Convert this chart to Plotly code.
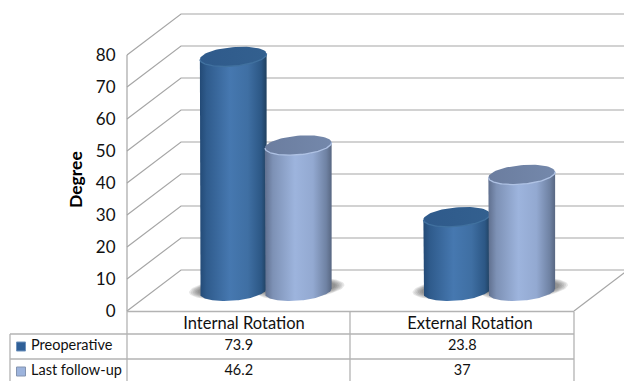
import math
import plotly.graph_objects as go

# Chart data
categories = ["Internal Rotation", "External Rotation"]
series_names = ["Preoperative", "Last follow-up"]
preoperative = [73.9, 23.8]
last_follow_up = [46.2, 37]
y_ticks = [0, 10, 20, 30, 40, 50, 60, 70, 80]

# Canvas and scale geometry (pixels)
W, H = 624, 381
FRONT_LEFT, FRONT_RIGHT = 127, 574
ZERO_PX = 311
PX_PER_DEG = 3.2
PX_PER_CAT = (FRONT_RIGHT - FRONT_LEFT) / len(categories)
DEPTH_X, DEPTH_Y = 54, 41


def dx(px):
    """Pixel column to category-axis units."""
    return (px - FRONT_LEFT) / PX_PER_CAT - 0.5


def dy(px):
    """Pixel row to degree-axis units."""
    return (ZERO_PX - px) / PX_PER_DEG


# Cylinder shape in axis units
RADIUS = 33.5 / PX_PER_CAT
CAP_B = 9.5 / PX_PER_DEG
TILT = math.radians(5)
TOP_SHIFT = 5.6
BASE_SHIFT = 6.2
BAR_OFFSET = 28 / PX_PER_CAT

BODY_DARK = [[0, "#234a76"], [0.1, "#2f5b8c"], [0.45, "#4678b0"], [0.72, "#3f6fa3"],
             [0.92, "#2c5785"], [1, "#20405f"]]
BODY_LIGHT = [[0, "#5f6f8e"], [0.12, "#7d91b5"], [0.45, "#9db4dd"], [0.72, "#93a9d1"],
              [0.92, "#6f82a3"], [1, "#586782"]]
CAP_DARK = [[0, "#2f5a8b"], [1, "#33608f"]]
CAP_LIGHT = [[0, "#6b7d9f"], [1, "#7488ab"]]
RIM_DARK = "#41719f"
RIM_LIGHT = "#afc2e4"
GRID = "#a6a6a6"
TABLE = "#b3b3b3"
FONT = "Lato, Carlito, sans-serif"


def ellipse(cx, cy, a, b, start=0.0, stop=2 * math.pi, n=72):
    xs, ys = [], []
    for i in range(n + 1):
        t = start + (stop - start) * i / n
        ex = a * PX_PER_CAT * math.cos(t)
        ey = b * PX_PER_DEG * math.sin(t)
        # tilt is applied in pixel space so the ellipse keeps its shape
        rx = ex * math.cos(TILT) - ey * math.sin(TILT)
        ry = ex * math.sin(TILT) + ey * math.cos(TILT)
        xs.append(cx + rx / PX_PER_CAT)
        ys.append(cy + ry / PX_PER_DEG)
    return xs, ys


fig = go.Figure()


def add_lines(xs, ys, color, width=1.2):
    fig.add_trace(go.Scatter(x=xs, y=ys, mode="lines", line=dict(color=color, width=width),
                             hoverinfo="skip", showlegend=False))


# Walls: gridlines run along the side wall and across the back wall
wall_x, wall_y = [], []
for v in y_ticks:
    shift = DEPTH_Y / PX_PER_DEG
    wall_x += [dx(FRONT_LEFT), dx(FRONT_LEFT + DEPTH_X), dx(FRONT_RIGHT + DEPTH_X), None]
    wall_y += [v, v + shift, v + shift, None]
add_lines(wall_x, wall_y, GRID)
# Left upright and right floor edge
add_lines([dx(FRONT_LEFT), dx(FRONT_LEFT)], [0, y_ticks[-1]], GRID)
add_lines([dx(FRONT_RIGHT), dx(FRONT_RIGHT + DEPTH_X)], [0, DEPTH_Y / PX_PER_DEG], GRID)


def add_cylinder(center, value, body, cap, rim):
    top = value + TOP_SHIFT
    # Body outline: left side, front of the base, right side
    bx, by = ellipse(center, BASE_SHIFT, RADIUS, CAP_B, math.pi, 2 * math.pi)
    tlx, tly = ellipse(center, top, RADIUS, CAP_B, math.pi, math.pi, n=1)
    trx, try_ = ellipse(center, top, RADIUS, CAP_B, 0, 0, n=1)
    xs = [tlx[0]] + bx + [trx[0]]
    ys = [tly[0]] + by + [try_[0]]
    fig.add_trace(go.Scatter(x=xs, y=ys, mode="lines", fill="toself",
                             line=dict(width=0, color="rgba(0,0,0,0)"),
                             fillgradient=dict(type="horizontal", colorscale=body),
                             hoverinfo="skip", showlegend=False))
    cx_, cy_ = ellipse(center, top, RADIUS, CAP_B)
    fig.add_trace(go.Scatter(x=cx_, y=cy_, mode="lines", fill="toself",
                             line=dict(width=0, color="rgba(0,0,0,0)"),
                             fillgradient=dict(type="horizontal", colorscale=cap),
                             hoverinfo="skip", showlegend=False))
    # Light rim along the front of the cap
    rx_, ry_ = ellipse(center, top, RADIUS, CAP_B, math.pi, 2 * math.pi)
    add_lines(rx_, ry_, rim, 1.3)


# Soft floor shadow beneath each group
for i in range(len(categories)):
    for step in range(6):
        grow = (6 - step) * 1.8 / PX_PER_CAT
        for off in (-RADIUS, RADIUS):
            sx, sy = ellipse(i + BAR_OFFSET + off, BASE_SHIFT + 0.8, RADIUS + grow,
                             CAP_B * (0.72 + 0.06 * (6 - step)))
            fig.add_trace(go.Scatter(x=sx, y=sy, mode="lines", fill="toself",
                                     line=dict(width=0, color="rgba(0,0,0,0)"),
                                     fillcolor="rgba(60,60,60,0.12)",
                                     hoverinfo="skip", showlegend=False))

# Cylinders: the lighter series sits in front of the darker one
for i in range(len(categories)):
    add_cylinder(i + BAR_OFFSET - RADIUS, preoperative[i], BODY_DARK, CAP_DARK, RIM_DARK)
for i in range(len(categories)):
    add_cylinder(i + BAR_OFFSET + RADIUS - 2 / PX_PER_CAT, last_follow_up[i], BODY_LIGHT, CAP_LIGHT, RIM_LIGHT)

# Data table rules
ROW_Y = [311.5, 334, 359]
TABLE_LEFT = 10
add_lines([dx(FRONT_LEFT), dx(FRONT_RIGHT), None, dx(TABLE_LEFT), dx(FRONT_RIGHT), None,
           dx(TABLE_LEFT), dx(FRONT_RIGHT)],
          [dy(ROW_Y[0]), dy(ROW_Y[0]), None, dy(ROW_Y[1]), dy(ROW_Y[1]), None,
           dy(ROW_Y[2]), dy(ROW_Y[2])], TABLE, 1.3)
add_lines([dx(FRONT_LEFT), dx(FRONT_LEFT), None, dx(TABLE_LEFT), dx(TABLE_LEFT), None,
           dx(350), dx(350), None, dx(FRONT_RIGHT), dx(FRONT_RIGHT)],
          [0, dy(H), None, dy(ROW_Y[1]), dy(H), None,
           dy(ROW_Y[0]), dy(H), None, dy(ROW_Y[0]), dy(H)], TABLE, 1.3)

# Data table text: category headings sit slightly right of the column centres
value_font = dict(family=FONT, size=14.5, color="#111111")
head_font = dict(family=FONT, size=16.5, color="#111111")
rows = [preoperative, last_follow_up]
row_mid = [346.5, 371.5]
head_px = [244, 470]
fig.add_trace(go.Scatter(x=[dx(p) for p in head_px], y=[dy(325)] * len(categories), text=categories,
                         mode="text", textposition="middle center", textfont=head_font,
                         hoverinfo="skip", showlegend=False))
for r, vals in enumerate(rows):
    fig.add_trace(go.Scatter(x=list(range(len(categories))), y=[dy(row_mid[r])] * len(categories),
                             text=[str(v) for v in vals], mode="text", textposition="middle center",
                             textfont=value_font, hoverinfo="skip", showlegend=False))
fig.add_trace(go.Scatter(x=[dx(31), dx(31)], y=[dy(row_mid[0]), dy(row_mid[1])], text=series_names,
                         mode="text", textposition="middle right", textfont=value_font,
                         hoverinfo="skip", showlegend=False))

# Legend keys in the first table column
for name, row, col, edge in zip(series_names, row_mid, ["#2f5f97", "#9db4dd"], ["#6f93bd", "#8494b0"]):
    fig.add_trace(go.Scatter(x=[dx(21)], y=[dy(row)], mode="markers", name=name,
                             marker=dict(symbol="square", size=9, color=col,
                                         line=dict(color=edge, width=1)),
                             hoverinfo="skip", showlegend=False))

fig.add_annotation(x=dx(75), y=dy(180), text="<b>Degree</b>", textangle=-90, showarrow=False,
                   font=dict(family=FONT, size=17.5, color="#000000"), xref="x", yref="y")

fig.update_layout(
    width=W, height=H, margin=dict(l=0, r=0, t=0, b=0, pad=0),
    paper_bgcolor="white", plot_bgcolor="white", showlegend=False,
    xaxis=dict(range=[dx(0), dx(W)], domain=[0, 1], visible=False, fixedrange=True),
    yaxis=dict(range=[dy(H), dy(0)], domain=[0, 1], anchor="free", position=FRONT_LEFT / W,
               tickvals=y_ticks, ticks="outside", ticklen=8, tickcolor="rgba(0,0,0,0)",
               showgrid=False, zeroline=False, showline=False, fixedrange=True,
               tickfont=dict(family=FONT, size=17, color="#111111")),
)

fig.write_html("out.html")
